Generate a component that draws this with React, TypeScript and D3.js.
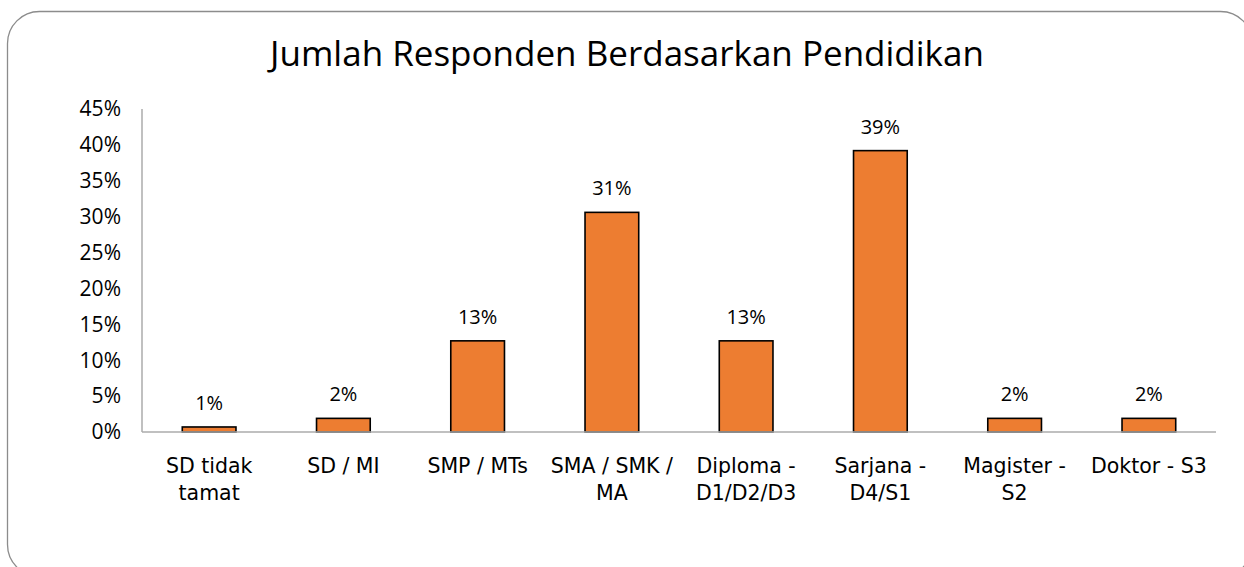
import React from "react";
import * as d3 from "d3";

const categories: string[][] = [
  ["SD tidak", "tamat"],
  ["SD / MI"],
  ["SMP / MTs"],
  ["SMA / SMK /", "MA"],
  ["Diploma -", "D1/D2/D3"],
  ["Sarjana -", "D4/S1"],
  ["Magister -", "S2"],
  ["Doktor - S3"],
];
const values: number[] = [0.7, 1.9, 12.7, 30.6, 12.7, 39.2, 1.9, 1.9];
const valueLabels: string[] = ["1%", "2%", "13%", "31%", "13%", "39%", "2%", "2%"];
const yTicks: number[] = [0, 5, 10, 15, 20, 25, 30, 35, 40, 45];
const title = "Jumlah Responden Berdasarkan Pendidikan";

const W = 1244;
const H = 567;
const FONT = "'Open Sans', sans-serif";
const CAT_FONT = "'DejaVu Sans', sans-serif";

export default function App() {
  const left = 142, right = 1216, top = 109, bottom = 432;
  const x = d3.scaleBand<number>().domain(d3.range(categories.length)).range([left, right]).paddingInner(0.6).paddingOuter(0.3);
  const y = d3.scaleLinear().domain([0, 45]).range([bottom, top]);
  return (
    <svg width={W} height={H} style={{ position: "absolute", left: 0, top: 0, background: "#fff" }}>
      <rect x={7.5} y={11.5} width={1245} height={565} rx={32} ry={32} fill="#fff" stroke="#8c8c8c" strokeWidth={1.3} />
      <text x={627} y={66} textAnchor="middle" fontFamily={FONT} fontSize={35} fill="#000">{title}</text>
      {yTicks.map((t) => (
        <text key={t} x={121} y={y(t)} dy="0.35em" textAnchor="end" fontFamily={FONT} fontSize={21} fill="#000">{t}%</text>
      ))}
      <line x1={left} x2={left} y1={top} y2={bottom} stroke="#ababab" strokeWidth={1.5} />
      {values.map((v, i) => {
        const cx = x(i)! + x.bandwidth() / 2;
        return (
          <g key={i}>
            <rect x={x(i)!} y={y(v)} width={x.bandwidth()} height={bottom - y(v)} fill="#ED7D31" stroke="#000" strokeWidth={1.6} />
            <text x={cx} y={y(v) - 24} dy="0.35em" textAnchor="middle" fontFamily={FONT} fontSize={20} fill="#000">{valueLabels[i]}</text>
            <text x={cx} y={473} textAnchor="middle" fontFamily={CAT_FONT} fontSize={20.5} fill="#000">
              {categories[i].map((line, j) => (
                <tspan key={j} x={cx} dy={j === 0 ? 0 : 27}>{line}</tspan>
              ))}
            </text>
          </g>
        );
      })}
      <line x1={left} x2={right} y1={bottom} y2={bottom} stroke="#ababab" strokeWidth={1.5} />
    </svg>
  );
}
